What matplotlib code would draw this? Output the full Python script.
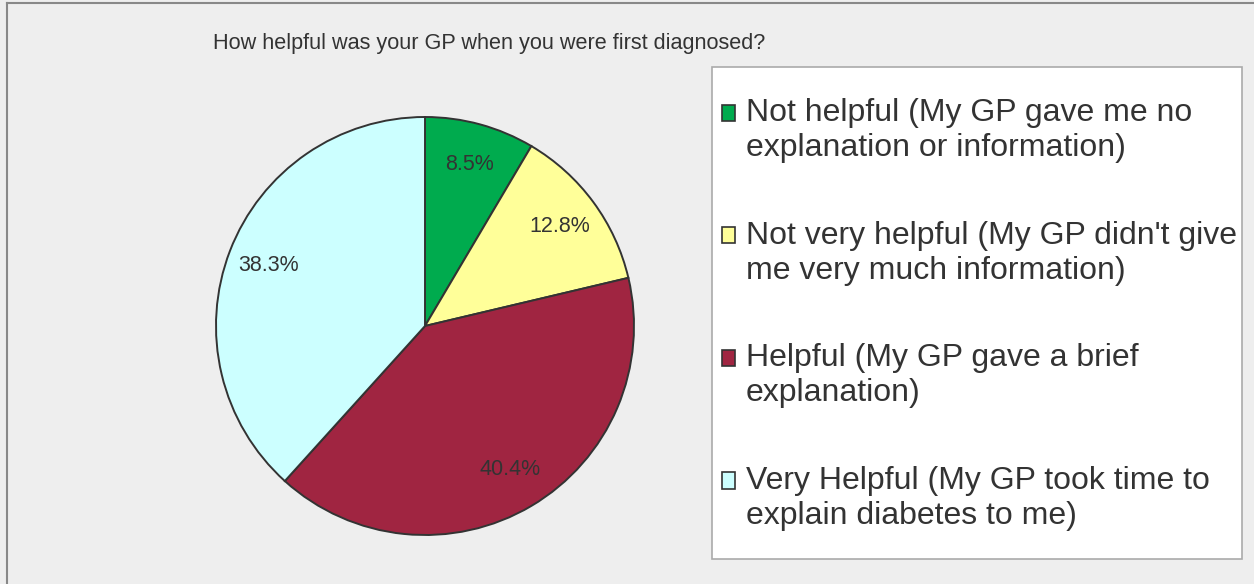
import matplotlib.pyplot as plt
from matplotlib.patches import Rectangle, Wedge
from matplotlib.legend_handler import HandlerPatch

# data
labels = [
    "Not helpful (My GP gave me no\nexplanation or information)",
    "Not very helpful (My GP didn't give\nme very much information)",
    "Helpful (My GP gave a brief\nexplanation)",
    "Very Helpful (My GP took time to\nexplain diabetes to me)",
]
values = [8.5, 12.8, 40.4, 38.3]
colors = ["#00AB4E", "#FFFF99", "#A02541", "#CCFFFF"]
title = "How helpful was your GP when you were first diagnosed?"

plt.rcParams['font.family'] = ['Liberation Sans', 'DejaVu Sans']
W, H = 1254, 584
fig = plt.figure(figsize=(W / 100, H / 100), dpi=100)
fig.patch.set_facecolor("#EEEEEE")

# outer border (only top and left visible in the reference)
fig.add_artist(plt.Line2D([6.5 / W, 6.5 / W], [0, 1 - 3 / H], transform=fig.transFigure,
                          color="#888888", lw=1.5))
fig.add_artist(plt.Line2D([6.5 / W, 1], [1 - 3 / H, 1 - 3 / H], transform=fig.transFigure,
                          color="#888888", lw=1.5))

fig.text(213 / W, 1 - 44 / H, title, fontsize=15.6, color="#333333", va="center", ha="left")

# pie: centre (425, 326), radius 209 px
r = 209
ax = fig.add_axes([(425 - r) / W, 1 - (326 + r) / H, 2 * r / W, 2 * r / H])
ax.set_facecolor("none")
wedges, texts, autotexts = ax.pie(
    values, colors=colors, startangle=90, counterclock=False,
    autopct="%.1f%%", pctdistance=0.8,
    wedgeprops=dict(edgecolor="#333333", linewidth=1.4),
    textprops=dict(fontsize=15.5, color="#333333"),
)
ax.set_xlim(-1, 1)
ax.set_ylim(-1, 1)
ax.set_aspect("equal")

# legend box
fig.add_artist(Rectangle((712 / W, 1 - 559 / H), (1242 - 712) / W, (559 - 67) / H,
                         transform=fig.transFigure, facecolor="white",
                         edgecolor="#AAAAAA", lw=1.2))

LEG_FS = 23
LINESP = 1.22


class FirstLineHandler(HandlerPatch):
    # put the square next to the first line of a two-line label
    def create_artists(self, legend, orig_handle, xdescent, ydescent, width, height,
                       fontsize, trans):
        shift = 0.46 * LINESP * fontsize
        p = Rectangle((-xdescent, -ydescent + shift), width, height,
                      facecolor=orig_handle.get_facecolor(), edgecolor="#333333",
                      lw=1.2, transform=trans)
        return [p]


leg = fig.legend(wedges, labels, loc="upper left",
                 bbox_to_anchor=(722 / W, 1 - 98 / H),
                 frameon=False, fontsize=LEG_FS, labelcolor="#333333",
                 handlelength=0.41, handleheight=0.41, handletextpad=0.33,
                 labelspacing=1.8, borderpad=0, borderaxespad=0,
                 handler_map={Wedge: FirstLineHandler()})
for t in leg.get_texts():
    t.set_linespacing(LINESP)

fig.savefig("out.png", dpi=100, facecolor=fig.get_facecolor())
